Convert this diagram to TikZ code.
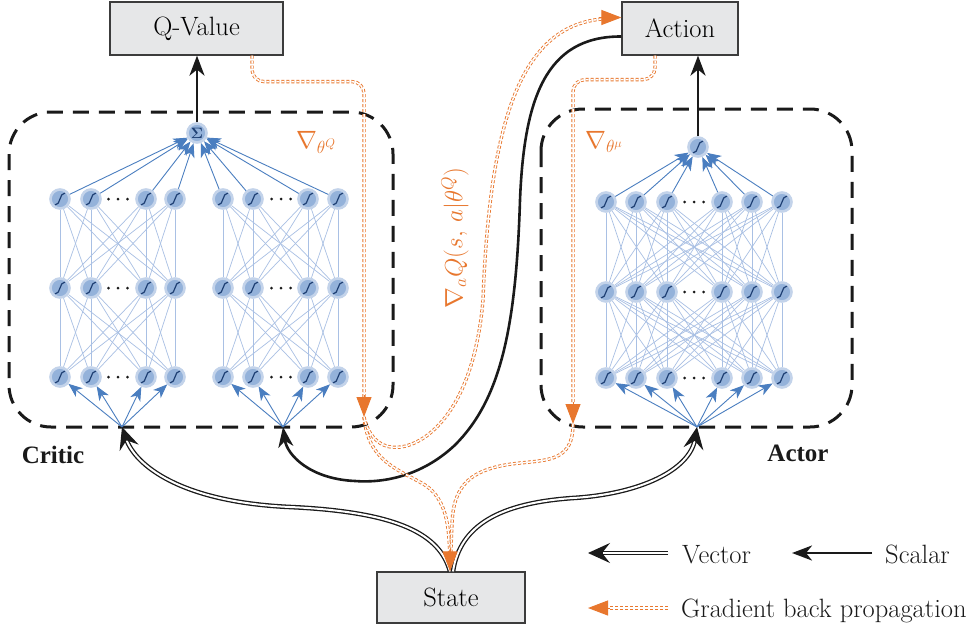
\RequirePackage{fix-cm}
\documentclass[tikz,border=0pt]{standalone}
\usepackage{amsmath}
\usepackage{fontspec}
\newfontfamily\netfont{Liberation Serif}
\usetikzlibrary{arrows.meta,calc,backgrounds}

\definecolor{boxfill}{HTML}{E6E7E8}
\definecolor{boxline}{HTML}{3C3C3C}
\definecolor{grad}{HTML}{E8772E}
\definecolor{nhalo}{HTML}{C3D3EA}
\definecolor{nfill}{HTML}{94B2DA}
\definecolor{nglyph}{HTML}{1E3F73}
\definecolor{wire}{HTML}{4A7EC0}
\definecolor{mesh}{HTML}{A9C0E4}
\definecolor{ink}{HTML}{1A1A1A}

\tikzset{
  every node/.style={inner sep=0pt},
  block/.style={draw=boxline, fill=boxfill, line width=1.2pt, font=\fontsize{26.5}{30}\selectfont},
  legendtext/.style={font=\fontsize{26.5}{30}\selectfont, text=ink},
  netlabel/.style={font=\netfont\bfseries\fontsize{25}{29}\selectfont, text=ink},
  gradlabel/.style={text=grad, font=\fontsize{25}{29}\selectfont},
  netbox/.style={draw=ink, line width=3pt, dash pattern=on 16pt off 10pt, rounded corners=42pt},
  neuron/.style={circle, minimum size=19pt, fill=nfill, draw=nhalo, line width=2.6pt},
  sigm/.style={neuron, path picture={
      \draw[nglyph, line width=1.2pt]
        ([shift={(-5pt,-6pt)}]path picture bounding box.center)
        .. controls +(6pt,0pt) and +(-6pt,0pt) ..
        ([shift={(5pt,6pt)}]path picture bounding box.center);}},
  meshline/.style={draw=mesh, line width=0.7pt},
  wirearrow/.style={draw=wire, line width=0.9pt, -{Stealth[length=14pt,width=11pt,inset=4pt]}},
  scalarrow/.style={draw=ink, line width=2.6pt, -{Stealth[length=20pt,width=15pt,inset=6pt]}},
  vecline/.style={draw=ink, double=white, double distance=2pt, line width=1.3pt},
  vtip/.style={draw=ink, fill=ink, line width=1.3pt, -{Stealth[length=22pt,width=20pt,inset=8pt]}},
  gradline/.style={draw=grad, double=white, double distance=1.5pt, line width=0.9pt, dash pattern=on 3pt off 2pt},
  gtip/.style={draw=grad, line width=1pt, -{Triangle[length=20pt,width=15pt]}},
}

\begin{document}
\begin{tikzpicture}[x=1pt,y=-1pt]
\useasboundingbox (0,0) rectangle (976,629);
\begin{pgfonlayer}{background}
  \fill[white] (0,0) rectangle (976,629);
\end{pgfonlayer}

% network containers
\draw[netbox] (9,112) rectangle (393,427);
\draw[netbox] (541,109) rectangle (852,427);

% input / output boxes
\node[block, minimum width=173pt, minimum height=53pt] (qv) at (196.5,28.5) {Q-Value};
\node[block, minimum width=116pt, minimum height=53pt] (act) at (680,28.5) {Action};
\node[block, minimum width=148pt, minimum height=51pt] (st) at (451,597.5) {State};

% critic: two sub-networks of three layers each
\foreach \i/\x in {1/60,2/91,3/146,4/175,5/223,6/253,7/308,8/338}{
  \node[sigm] (ca\i) at (\x,199) {};
  \node[sigm] (cb\i) at (\x,288) {};
  \node[sigm] (cc\i) at (\x,377) {};
}
\node[neuron, text=nglyph, font=\fontsize{15}{15}\selectfont] (sig) at (197,133) {$\boldsymbol{\Sigma}$};
\coordinate (cin1) at (122,427);
\coordinate (cin2) at (283,427);

% actor: three layers and one output unit
\foreach \i/\x in {1/606,2/636,3/667,4/722,5/752,6/782}{
  \node[sigm] (aa\i) at (\x,202) {};
  \node[sigm] (ab\i) at (\x,292) {};
  \node[sigm] (ac\i) at (\x,378) {};
}
\node[sigm] (atop) at (698,147) {};
\coordinate (ain) at (697,427);

% ellipsis dots inside each layer
\foreach \x/\y in {118/199,118/288,118/377,281/199,281/288,281/377,694/202,694/292,694/378}{
  \foreach \d in {-9.5,0,9.5}{\fill[ink] (\x+\d,\y) circle (1.5pt);}
}

% dense connections between layers
\begin{pgfonlayer}{background}
  \foreach \i in {1,...,4}{\foreach \j in {1,...,4}{
    \draw[meshline] (ca\i) -- (cb\j);
    \draw[meshline] (cb\i) -- (cc\j);
  }}
  \foreach \i in {5,...,8}{\foreach \j in {5,...,8}{
    \draw[meshline] (ca\i) -- (cb\j);
    \draw[meshline] (cb\i) -- (cc\j);
  }}
  \foreach \i in {1,...,6}{\foreach \j in {1,...,6}{
    \draw[meshline] (aa\i) -- (ab\j);
    \draw[meshline] (ab\i) -- (ac\j);
  }}
\end{pgfonlayer}

% input fan-out and output fan-in
\foreach \i in {1,...,8}{\draw[wirearrow] (ca\i) -- (sig);}
\foreach \i in {1,...,4}{\draw[wirearrow] (cin1) -- (cc\i);}
\foreach \i in {5,...,8}{\draw[wirearrow] (cin2) -- (cc\i);}
\foreach \i in {1,...,6}{\draw[wirearrow] (aa\i) -- (atop);}
\foreach \i in {1,...,6}{\draw[wirearrow] (ain) -- (ac\i);}

% scalar outputs
\draw[scalarrow] (sig) -- (sig |- qv.south);
\draw[scalarrow] (atop) -- (atop |- act.south);

% action fed back into the critic
\draw[scalarrow] ([yshift=-8pt]act.west)
  .. controls (545,36) and (524,100) .. (520,200)
  .. controls (516,330) and (500,400) .. (455,445)
  .. controls (420,478) and (380,483) .. (355,481)
  .. controls (310,479) and (287,455) .. (cin2);

% state vectors into critic and actor
\draw[vecline, shorten >=12pt] ([xshift=-1pt]st.north)
  .. controls (440,535) and (400,512) .. (290,507)
  .. controls (180,502) and (135,465) .. (cin1);
\draw[vtip] ($(cin1)!14pt!(135,465)$) -- (cin1);
\draw[vecline, shorten >=12pt] ([xshift=2pt]st.north)
  .. controls (460,525) and (500,503) .. (573,498)
  .. controls (640,494) and (690,470) .. (ain);
\draw[vtip] ($(ain)!14pt!(690,470)$) -- (ain);

% gradient back propagation
\coordinate (cgT) at (364,417);
\coordinate (agT) at (573,424);
\draw[gradline, rounded corners=12pt, shorten >=18pt] ([xshift=55.5pt]qv.south) -- ++(0,26) -| (cgT);
\draw[gradline, rounded corners=12pt, shorten >=18pt] ([xshift=-25pt]act.south) -- ++(0,24) -| (agT);
\draw[gradline, shorten >=18pt] (cgT)
  .. controls (368,462) and (400,470) .. (425,485)
  .. controls (446,499) and (449,525) .. ([xshift=-1pt]st.north);
\draw[gradline, shorten >=18pt] (agT)
  .. controls (573,460) and (550,460) .. (520,463)
  .. controls (470,468) and (453,485) .. (452,525) -- ([xshift=-1pt]st.north);
\draw[gradline, shorten >=18pt] (cgT)
  .. controls (372,452) and (400,454) .. (425,437)
  .. controls (460,412) and (478,360) .. (483,300)
  .. controls (490,110) and (525,25) .. ([yshift=11pt]act.west);
\draw[gtip] ($(cgT)+(0,-22)$) -- (cgT);
\draw[gtip] ($(agT)+(0,-22)$) -- (agT);
\draw[gtip] ([shift={(-1pt,22pt)}]st.north) -- ([xshift=-1pt]st.north);
\draw[gtip] ([shift={(-22pt,11pt)}]act.west) -- ([yshift=11pt]act.west);

% labels
\node[netlabel] (lcritic) at (53,455) {Critic};
\node[netlabel] (lactor) at (798,453) {Actor};
\node[gradlabel] (gq) at (316,142) {$\nabla_{\theta^Q}$};
\node[gradlabel] (gm) at (604,142) {$\nabla_{\theta^\mu}$};
\node[gradlabel, rotate=90] (ga) at (455,238) {$\nabla_a Q(s,\, a|\theta^Q)$};

% legend
\coordinate (lv1) at (668,553); \coordinate (lv2) at (588,553);
\coordinate (ls1) at (872,553); \coordinate (ls2) at (792,553);
\coordinate (lg1) at (668,608); \coordinate (lg2) at (588,608);
\draw[vecline, shorten >=12pt] (lv1) -- (lv2);
\draw[vtip] ($(lv2)!14pt!(lv1)$) -- (lv2);
\draw[scalarrow] (ls1) -- (ls2);
\draw[gradline, shorten >=18pt] (lg1) -- (lg2);
\draw[gtip] ($(lg2)!22pt!(lg1)$) -- (lg2);
\node[legendtext, anchor=base west] (tv) at (682,563) {Vector};
\node[legendtext, anchor=base west] (ts) at (885,563) {Scalar};
\node[legendtext, anchor=base west] (tg) at (681,617) {Gradient back propagation};
\end{tikzpicture}
\end{document}
